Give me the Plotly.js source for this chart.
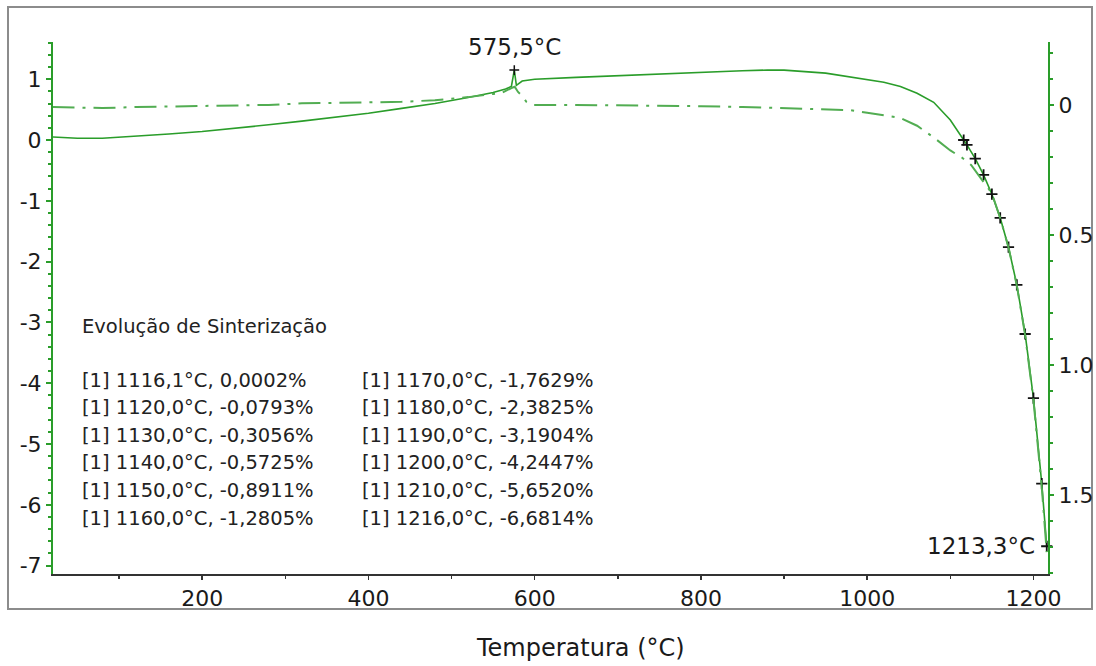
<!DOCTYPE html>
<html>
<head>
<meta charset="utf-8">
<script src="https://cdn.plot.ly/plotly-3.0.1.min.js"></script>
<style>html,body{margin:0;padding:0;background:#fff;}#chart{width:1096px;height:666px;}</style>
</head>
<body>
<div id="chart"></div>
<script>
// Solid curve: dilatation (%) on the left axis
var solidT = [20, 50, 80, 120, 160, 200, 240, 280, 320, 360, 400, 440, 480, 520, 550, 565, 572, 575.5, 578, 585, 600, 650, 700, 750, 800, 850, 880, 900, 950, 980, 1000, 1020, 1040, 1060, 1080, 1100, 1116.1, 1120, 1130, 1140, 1150, 1160, 1170, 1180, 1190, 1200, 1210, 1216];
var solidV = [0.05, 0.03, 0.03, 0.06, 0.10, 0.14, 0.19, 0.25, 0.31, 0.37, 0.44, 0.52, 0.60, 0.70, 0.78, 0.84, 0.88, 1.15, 0.90, 0.97, 1.00, 1.03, 1.06, 1.09, 1.12, 1.14, 1.15, 1.15, 1.10, 1.04, 0.99, 0.95, 0.88, 0.77, 0.62, 0.33, 0.0002, -0.0793, -0.3056, -0.5725, -0.8911, -1.2805, -1.7629, -2.3825, -3.1904, -4.2447, -5.6520, -6.6814];

// Dash-dot curve on the right (reversed) axis
var dashT = [20, 40, 80, 120, 200, 280, 320, 400, 440, 480, 520, 550, 560, 572, 576, 580, 585, 590, 597, 650, 700, 750, 800, 850, 900, 950, 980, 1000, 1020, 1040, 1060, 1080, 1100, 1115, 1125, 1145, 1150, 1160, 1170, 1180, 1190, 1200, 1210, 1216];
var dashV = [0.008, 0.010, 0.012, 0.008, 0.004, 0.000, -0.006, -0.010, -0.012, -0.018, -0.030, -0.042, -0.045, -0.065, -0.070, -0.050, -0.035, -0.012, 0.000, 0.000, 0.001, 0.003, 0.005, 0.008, 0.012, 0.016, 0.020, 0.030, 0.039, 0.050, 0.080, 0.125, 0.175, 0.205, 0.231, 0.315, 0.340, 0.435, 0.548, 0.695, 0.885, 1.135, 1.470, 1.720];

// Marked points (sintering evolution)
var markerT = [1116.1, 1120, 1130, 1140, 1150, 1160, 1170, 1180, 1190, 1200, 1210, 1216];
var markerV = [0.0002, -0.0793, -0.3056, -0.5725, -0.8911, -1.2805, -1.7629, -2.3825, -3.1904, -4.2447, -5.6520, -6.6814];

var peakT = [575.5];
var peakV = [1.15];
var endT = 1213.3;
var endV = -6.6814;

var xTickVals = [200, 400, 600, 800, 1000, 1200];
var xTickText = ["200", "400", "600", "800", "1000", "1200"];
var yTickVals = [1, 0, -1, -2, -3, -4, -5, -6, -7];
var yTickText = ["1", "0", "-1", "-2", "-3", "-4", "-5", "-6", "-7"];
var y2TickVals = [0, 0.5, 1.0, 1.5];
var y2TickText = ["0", "0.5", "1.0", "1.5"];

var legendTitle = "Evolução de Sinterização";
var xTitle = "Temperatura (°C)";

var FONT = "DejaVu Sans";
var GREEN = "#2a9d2a";
var L = 53, R = 1048, T = 42, B = 574;
function px(x){ return (x - L) / (R - L); }
function py(y){ return (B - y) / (B - T); }
function fmt(v, d){ return v.toFixed(d).replace('.', ','); }

var traces = [
  {x: dashT, y: dashV, yaxis: 'y2', mode: 'lines', line: {color: '#52ad52', width: 2, dash: '22px,8px,3px,8px'}, hoverinfo: 'skip'},
  {x: solidT, y: solidV, mode: 'lines', line: {color: GREEN, width: 1.6}, hoverinfo: 'skip'},
  {x: markerT, y: markerV, mode: 'markers', cliponaxis: false, marker: {symbol: 'cross-thin-open', size: 8, color: '#111', line: {width: 1.8, color: '#111'}}},
  {x: peakT, y: peakV, mode: 'markers', cliponaxis: false, marker: {symbol: 'cross-thin-open', size: 7, color: '#111', line: {width: 1.5, color: '#111'}}}
];

var annotations = [];
annotations.push({xref: 'paper', yref: 'paper', x: px(80), y: py(326), xanchor: 'left', yanchor: 'middle', showarrow: false, text: legendTitle, font: {family: FONT, size: 19.5, color: '#222'}});
for (var i = 0; i < markerT.length; i++) {
  var col = i < 6 ? 0 : 1;
  var row = i % 6;
  annotations.push({xref: 'paper', yref: 'paper', x: px(col === 0 ? 80 : 360), y: py(380 + row * 27.6), xanchor: 'left', yanchor: 'middle', showarrow: false,
    text: '[1] ' + fmt(markerT[i], 1) + '°C, ' + fmt(markerV[i], 4) + '%', font: {family: FONT, size: 19.5, color: '#222'}});
}
annotations.push({x: peakT[0], y: peakV[0], xref: 'x', yref: 'y', xanchor: 'center', yanchor: 'bottom', yshift: 8, showarrow: false, text: fmt(peakT[0], 1) + '°C', font: {family: FONT, size: 23, color: '#1a1a1a'}});
annotations.push({x: endT, y: endV, xref: 'x', yref: 'y', xanchor: 'right', yanchor: 'middle', xshift: -8, showarrow: false, text: fmt(endT, 1) + '°C', font: {family: FONT, size: 23, color: '#1a1a1a'}});
annotations.push({xref: 'paper', yref: 'paper', x: px(580), y: py(648), xanchor: 'center', yanchor: 'middle', showarrow: false, text: xTitle, font: {family: FONT, size: 24, color: '#1a1a1a'}});

var layout = {
  width: 1096, height: 666,
  margin: {l: L, r: 1096 - R, t: T, b: 666 - B, pad: 0},
  paper_bgcolor: '#fff', plot_bgcolor: '#fff',
  showlegend: false,
  font: {family: FONT, color: '#1a1a1a'},
  xaxis: {range: [20.6, 1217.5], showgrid: false, zeroline: false, showline: true, linecolor: '#333', linewidth: 1.5,
    ticks: 'outside', ticklen: 4, tickcolor: '#333', tickwidth: 1.5, tickmode: 'array', tickvals: xTickVals, ticktext: xTickText,
    minor: {tickmode: 'linear', tick0: 0, dtick: 100, ticklen: 3, tickcolor: '#333', ticks: 'outside'},
    tickfont: {family: FONT, size: 22, color: '#1a1a1a'}},
  yaxis: {range: [-7.138, 1.612], showgrid: false, zeroline: false, showline: true, linecolor: GREEN, linewidth: 2,
    ticks: 'outside', ticklen: 5, tickcolor: GREEN, tickwidth: 2, tickmode: 'array', tickvals: yTickVals, ticktext: yTickText,
    minor: {tickmode: 'linear', tick0: 0, dtick: 0.2, ticklen: 3, tickcolor: GREEN, ticks: 'outside'},
    tickfont: {family: FONT, size: 22, color: '#1a1a1a'}},
  yaxis2: {overlaying: 'y', side: 'right', range: [1.804, -0.242], showgrid: false, zeroline: false, showline: true, linecolor: GREEN, linewidth: 2,
    ticks: 'outside', ticklen: 4, tickcolor: GREEN, tickwidth: 2, tickmode: 'array', tickvals: y2TickVals, ticktext: y2TickText,
    minor: {tickmode: 'linear', tick0: 0, dtick: 0.1, ticklen: 3, tickcolor: GREEN, ticks: 'outside'},
    tickfont: {family: FONT, size: 22, color: '#1a1a1a'}},
  annotations: annotations,
  shapes: [
    {type: 'rect', xref: 'paper', yref: 'paper', x0: px(8), x1: px(1092), y0: py(609), y1: py(7), line: {color: '#8c8c8c', width: 2}, layer: 'below'}
  ]
};

Plotly.newPlot('chart', traces, layout, {displayModeBar: false, staticPlot: true});
</script>
</body>
</html>
